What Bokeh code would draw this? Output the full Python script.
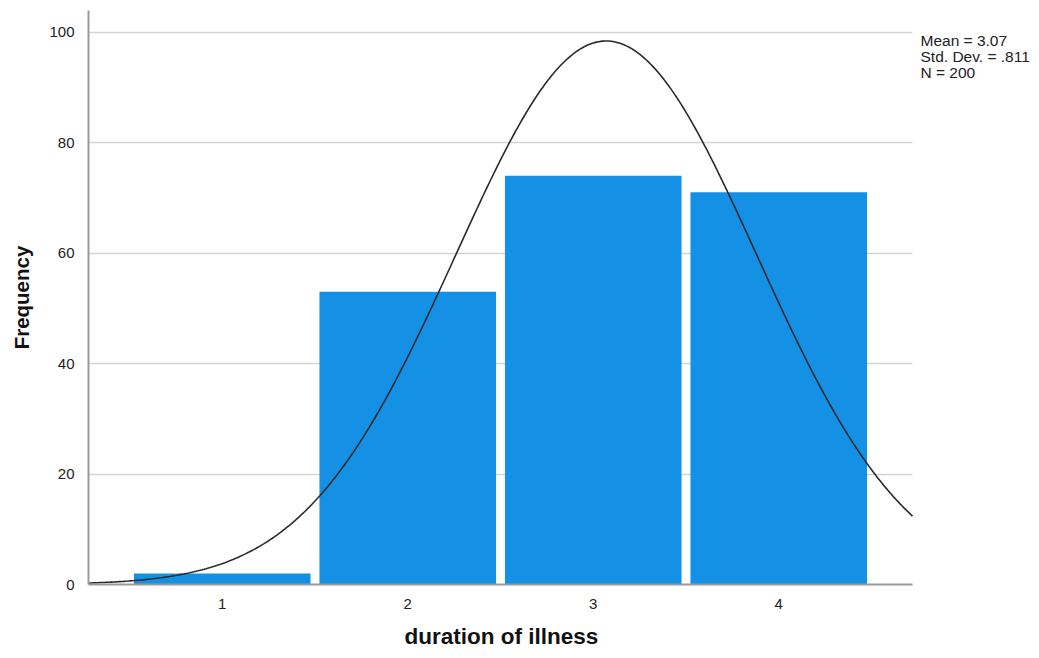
import numpy as np
from bokeh.plotting import figure
from bokeh.models import FixedTicker, Range1d, Label, Title
from bokeh.embed import file_html
from bokeh.resources import INLINE

# data
categories = [1, 2, 3, 4]
frequencies = [2, 53, 74, 71]
mean_val = 3.07
sd_val = 0.811
n_val = 200
y_ticks = [0, 20, 40, 60, 80, 100]
stats_lines = ["Mean = 3.07", "Std. Dev. = .811", "N = 200"]
x_title = "duration of illness"
y_title = "Frequency"

FONT = "Liberation Sans"
BAR_COLOR = "#1490E4"

# visible plotting area spans x0..x1; the frame is extended to the right edge
# so the statistics text (which sits right of the plot) is not clipped
x0, x1 = 0.279, 4.721
px_per_x = 824 / (x1 - x0)
x_end = x0 + 951 / px_per_x
y_top = 103.9

p = figure(width=1039, height=658, output_backend="svg", toolbar_location=None,
           x_range=Range1d(x0, x_end), y_range=Range1d(0, y_top),
           min_border_left=88, min_border_right=0, min_border_top=10, min_border_bottom=74)
p.outline_line_color = None
p.background_fill_color = "white"
p.border_fill_color = "white"

half = 0.476
p.quad(left=[c - half for c in categories], right=[c + half for c in categories],
       bottom=0, top=frequencies, fill_color=BAR_COLOR, line_color=None)

xs = np.linspace(x0, x1, 400)
ys = n_val * 1.0 / (sd_val * np.sqrt(2 * np.pi)) * np.exp(-0.5 * ((xs - mean_val) / sd_val) ** 2)
p.line(xs, ys, line_color="#2b2b2b", line_width=1.6)

# axes
p.xaxis.ticker = FixedTicker(ticks=categories)
p.yaxis.ticker = FixedTicker(ticks=y_ticks)
p.xaxis.bounds = (x0, x1)
for ax in (p.xaxis, p.yaxis):
    ax.major_tick_line_color = None
    ax.minor_tick_line_color = None
    ax.axis_line_color = "#9a9a9a"
    ax.axis_line_width = 2
    ax.major_label_text_font = FONT
    ax.major_label_text_font_size = "15px"
    ax.major_label_text_color = "#222222"
p.yaxis.axis_label = y_title
p.yaxis.axis_label_text_font = FONT
p.yaxis.axis_label_text_font_style = "bold"
p.yaxis.axis_label_text_color = "#111111"
p.yaxis.axis_label_text_font_size = "20.5px"
p.xaxis.major_label_standoff = 8
p.yaxis.major_label_standoff = 8
p.yaxis.axis_label_standoff = 13

# x-axis title, centred under the visible plot area (not the extended frame)
p.add_layout(Title(text=x_title, align="left", offset=316, standoff=20,
                   text_font=FONT, text_font_style="bold", text_font_size="22.5px",
                   text_color="#111111"), "below")

p.xgrid.grid_line_color = None
p.ygrid.grid_line_color = "#d4d4d4"
p.ygrid.grid_line_width = 1.6
p.ygrid.cross_bounds = (x0, x1)

# statistics text to the right of the plot
px_per_y = 574 / y_top
for i, t in enumerate(stats_lines):
    baseline_px = 40 + 16 * i
    p.add_layout(Label(x=832, y=(584 - baseline_px) / px_per_y, x_units="screen", y_units="data",
                       text=t, text_font=FONT, text_font_size="15.5px",
                       text_color="#222222", text_baseline="alphabetic", text_align="left"))

open("out.html", "w").write(file_html(p, INLINE))
